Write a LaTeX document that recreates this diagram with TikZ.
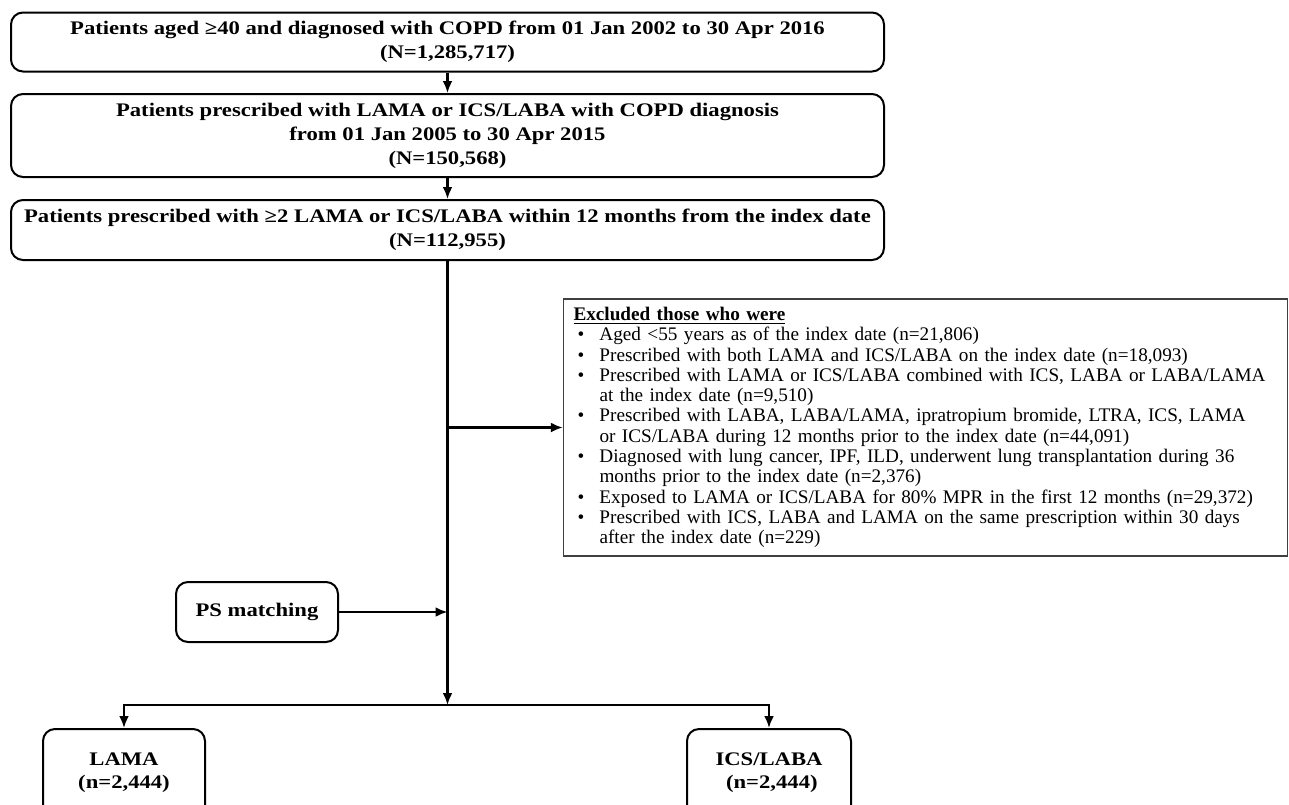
\documentclass[tikz,border=0pt]{standalone}
\usepackage{fontspec}
\setmainfont{Liberation Serif}
\newfontfamily\boxfont{Liberation Serif}[FakeStretch = 1.18]
\usetikzlibrary{positioning, calc, arrows.meta}
\tikzstyle{Flow} = [
%arrow used for every connector
line width = 1.3pt,
-{Latex[length = 6pt, width = 5pt]}
]
\newcommand{\exitem}[1]{\par\noindent\hangindent=13pt\hbox to 13pt{\hspace{2pt}\textbullet\hfil}#1}

\begin{document}
\begin{tikzpicture}[x = 0.5pt, y = -0.5pt,
			stage/.style = {rectangle, rounded corners = 6pt, line width = 1pt, draw, align = center, font = \boxfont\fontsize{9.6}{12}\selectfont\bfseries, inner sep = 0pt, minimum width = 436.5pt},
			arm/.style = {rectangle, rounded corners = 6pt, line width = 1pt, draw, align = center, font = \boxfont\fontsize{9.6}{11.5}\selectfont\bfseries, inner sep = 0pt},
			excluded/.style = {rectangle, draw = black!75, line width = 0.7pt, text width = 352pt, inner xsep = 5pt, inner ysep = 4pt, font = \fontsize{9.6}{10.15}\selectfont, align = left},
		]
		\useasboundingbox (0,0) rectangle (1289,804);

		\node[stage, minimum height = 29.5pt](B1) at (447.5,42){Patients aged ≥40 and diagnosed with COPD from 01 Jan 2002 to 30 Apr 2016\\(N=1,285,717)};
		\node[stage, minimum height = 41.5pt](B2) at (447.5,135.5){Patients prescribed with LAMA or ICS/LABA with COPD diagnosis\\from 01 Jan 2005 to 30 Apr 2015\\(N=150,568)};
		\node[stage, minimum height = 30pt](B3) at (447.5,230){Patients prescribed with ≥2 LAMA or ICS/LABA within 12 months from the index date\\(N=112,955)};

		\node[excluded, minimum height = 128.5pt](EX) at (925.5,427.5){%
			\underline{\textbf{Excluded those who were}}
			\exitem{Aged <55 years as of the index date (n=21,806)}
			\exitem{Prescribed with both LAMA and ICS/LABA on the index date (n=18,093)}
			\exitem{Prescribed with LAMA or ICS/LABA combined with ICS, LABA or LABA/LAMA\newline at the index date (n=9,510)}
			\exitem{Prescribed with LABA, LABA/LAMA, ipratropium bromide, LTRA, ICS, LAMA\newline or ICS/LABA during 12 months prior to the index date (n=44,091)}
			\exitem{Diagnosed with lung cancer, IPF, ILD, underwent lung transplantation during 36\newline months prior to the index date (n=2,376)}
			\exitem{Exposed to LAMA or ICS/LABA for 80\% MPR in the first 12 months (n=29,372)}
			\exitem{Prescribed with ICS, LABA and LAMA on the same prescription within 30 days\newline after the index date (n=229)}\par};

		\node[arm, minimum width = 81pt, minimum height = 30pt](PS) at (257,612){PS matching};
		\node[arm, minimum width = 81pt, minimum height = 44pt](LAMA) at (124,773){LAMA\\(n=2,444)};
		\node[arm, minimum width = 82pt, minimum height = 44pt](ICS) at (769,773){ICS/LABA\\\ (n=2,444)};

		\coordinate(split) at (447.5,705);

		\draw[Flow](B1)--(B2);
		\draw[Flow](B2)--(B3);
		\draw[Flow](B3)--(split);
		\draw[Flow](B3.south |- EX.west)--(EX.west);
		\draw[Flow](PS)--(PS -| B3.south);
		\draw[Flow](split)-|(LAMA);
		\draw[Flow](split)-|(ICS);

	\end{tikzpicture}
\end{document}
